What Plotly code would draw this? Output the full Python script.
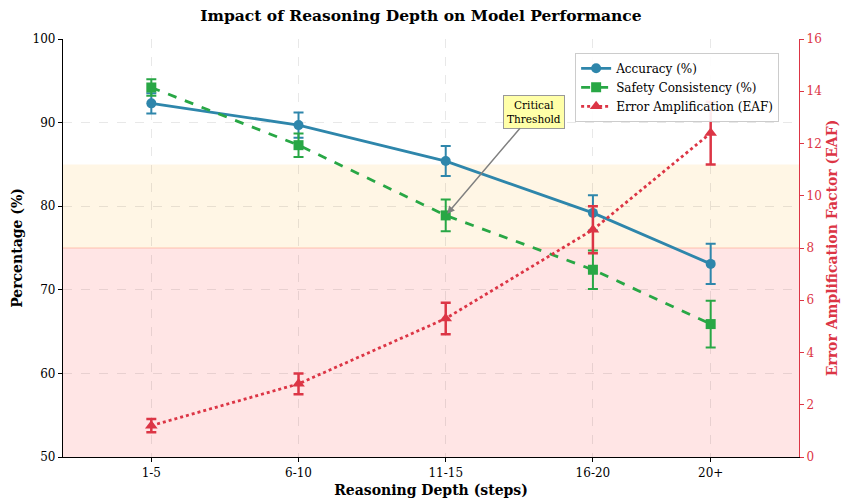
import plotly.graph_objects as go

# ---- data ----
depth_labels = ["1-5", "6-10", "11-15", "16-20", "20+"]
depth_mid = [3, 8, 13, 18, 22]
accuracy = [92.3, 89.7, 85.4, 79.2, 73.1]
accuracy_err = [1.2, 1.5, 1.8, 2.1, 2.4]
safety = [94.2, 87.3, 78.9, 72.4, 65.9]
safety_err = [1.0, 1.4, 1.9, 2.3, 2.8]
eaf = [1.2, 2.8, 5.3, 8.7, 12.4]
eaf_err = [0.25, 0.4, 0.6, 0.9, 1.2]

BLUE = "#2E86AB"
GREEN = "#28A745"
RED = "#DC3545"
FONT = "DejaVu Serif"

fig = go.Figure()

# bands
fig.add_shape(type="rect", xref="paper", yref="y", x0=0, x1=1, y0=75, y1=85,
              fillcolor="rgba(255,165,0,0.1)", line=dict(width=0), layer="below")
fig.add_shape(type="rect", xref="paper", yref="y", x0=0, x1=1, y0=50, y1=75,
              fillcolor="rgba(255,0,0,0.1)", line=dict(width=0), layer="below")
fig.add_shape(type="line", xref="paper", yref="y", x0=0, x1=1, y0=75, y1=75,
              line=dict(color="rgba(255,120,80,0.25)", width=1.5), layer="below")

fig.add_trace(go.Scatter(
    x=depth_mid, y=accuracy, name="Accuracy (%)", mode="lines+markers",
    line=dict(color=BLUE, width=2.8),
    marker=dict(symbol="circle", size=10, color=BLUE),
    error_y=dict(type="data", array=accuracy_err, color=BLUE, thickness=2, width=5),
))
fig.add_trace(go.Scatter(
    x=depth_mid, y=safety, name="Safety Consistency (%)", mode="lines+markers",
    line=dict(color=GREEN, width=2.8, dash="dash"),
    marker=dict(symbol="square", size=10, color=GREEN),
    error_y=dict(type="data", array=safety_err, color=GREEN, thickness=2, width=5),
))
fig.add_trace(go.Scatter(
    x=depth_mid, y=eaf, name="Error Amplification (EAF)", mode="lines+markers",
    yaxis="y2",
    line=dict(color=RED, width=2.8, dash="dot"),
    marker=dict(symbol="triangle-up", size=11, color=RED),
    error_y=dict(type="data", array=eaf_err, color=RED, thickness=2.5, width=5),
))

fig.add_annotation(
    x=13.05, y=79.1, xref="x", yref="y",
    ax=16.0, ay=91.3, axref="x", ayref="y",
    text="Critical<br>Threshold", showarrow=True,
    arrowhead=2, arrowsize=1, arrowwidth=1.5, arrowcolor="gray",
    font=dict(family=FONT, size=10.5, color="black"),
    bgcolor="#FFFFA8", bordercolor="#999999", borderwidth=1, borderpad=3,
)

fig.update_layout(
    width=842, height=502,
    margin=dict(l=63, r=43, t=39, b=45, autoexpand=False),
    paper_bgcolor="white", plot_bgcolor="white",
    font=dict(family=FONT, size=12, color="black"),
    title=dict(text="<b>Impact of Reasoning Depth on Model Performance</b>",
               x=0.5, xanchor="center", y=0.968, yanchor="middle",
               font=dict(family=FONT, size=15.5, color="black")),
    xaxis=dict(
        range=[0, 25], tickvals=depth_mid, ticktext=depth_labels,
        showline=True, linecolor="black", linewidth=1.2,
        ticks="outside", ticklen=4, tickcolor="black",
        showgrid=True, gridcolor="rgba(0,0,0,0.09)", griddash="dash",
        zeroline=False, automargin=False,
        title=dict(text="<b>Reasoning Depth (steps)</b>", font=dict(size=14), standoff=6),
        tickfont=dict(size=12),
    ),
    yaxis=dict(
        range=[50, 100], tickvals=[50, 60, 70, 80, 90, 100],
        showline=True, linecolor="black", linewidth=1.2,
        ticks="outside", ticklen=4, tickcolor="black",
        showgrid=True, gridcolor="rgba(0,0,0,0.09)", griddash="dash",
        zeroline=False, automargin=False,
        title=dict(text="<b>Percentage (%)</b>", font=dict(size=14), standoff=6),
        tickfont=dict(size=12),
    ),
    yaxis2=dict(
        range=[0, 16], tickvals=list(range(0, 17, 2)), overlaying="y", side="right",
        showline=True, linecolor=RED, linewidth=1.2,
        ticks="outside", ticklen=4, tickcolor=RED,
        showgrid=False, zeroline=False, automargin=False,
        tickfont=dict(size=12, color=RED),
        title=dict(text="<b>Error Amplification Factor (EAF)</b>",
                   font=dict(size=14, color=RED), standoff=6),
    ),
    legend=dict(
        x=0.973, y=0.967, xanchor="right", yanchor="top",
        bgcolor="rgba(255,255,255,0.9)", bordercolor="#cccccc", borderwidth=1,
        font=dict(family=FONT, size=12), tracegroupgap=0, itemwidth=30,
    ),
    showlegend=True,
)

fig.write_html("out.html", config={"displayModeBar": False},
               post_script="document.body.style.margin='0';document.body.style.padding='0';")
